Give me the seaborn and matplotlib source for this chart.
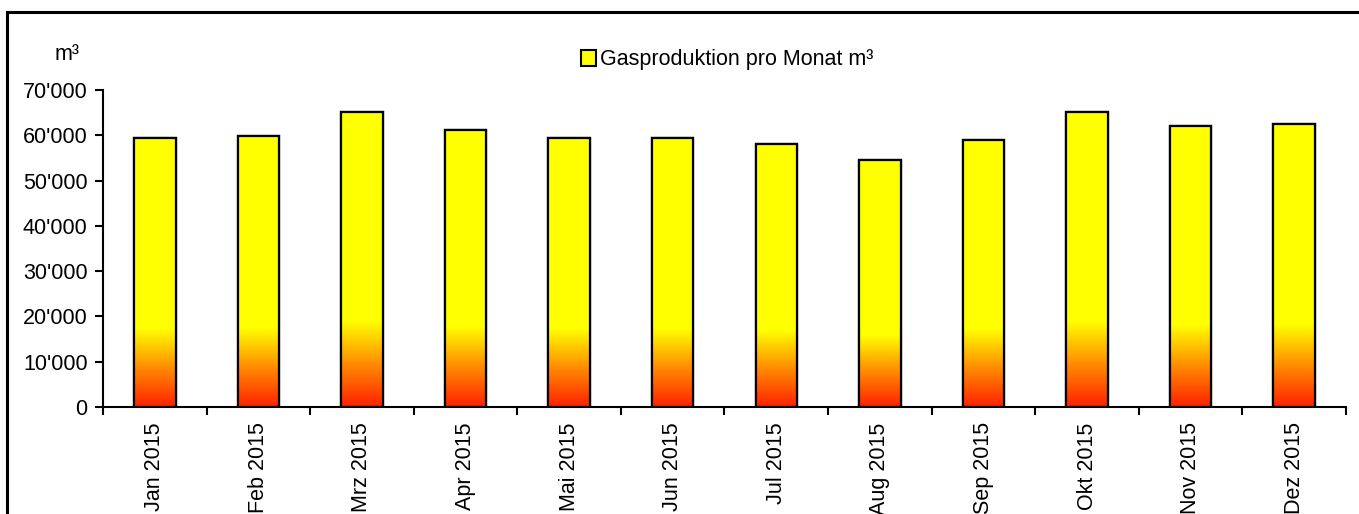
import numpy as np
import pandas as pd
import matplotlib
matplotlib.use("Agg")
import matplotlib.pyplot as plt
from matplotlib.colors import LinearSegmentedColormap
from matplotlib.patches import Rectangle
from matplotlib.ticker import FuncFormatter, FixedLocator
import seaborn as sns

months = ["Jan 2015", "Feb 2015", "Mrz 2015", "Apr 2015", "Mai 2015", "Jun 2015",
          "Jul 2015", "Aug 2015", "Sep 2015", "Okt 2015", "Nov 2015", "Dez 2015"]
gas_m3 = [59300, 59800, 65100, 61200, 59300, 59300,
          58100, 54600, 59000, 65100, 62100, 62500]
series_label = "Gasproduktion pro Monat m³"
unit_label = "m³"

sns.set_theme(style="white")
plt.rcParams["font.family"] = ["Liberation Sans", "DejaVu Sans"]
plt.rcParams["font.size"] = 15
plt.rcParams["text.color"] = "black"
plt.rcParams["xtick.color"] = "black"
plt.rcParams["ytick.color"] = "black"

df = pd.DataFrame({"Monat": months, "Gas": gas_m3})

fig = plt.figure(figsize=(13.59, 5.14), dpi=100)
ax = fig.add_axes([103 / 1359, 1 - 407 / 514, (1346 - 103) / 1359, 317 / 514])

sns.barplot(data=df, x="Monat", y="Gas", color="#FFFF00", width=0.4,
            edgecolor="black", linewidth=1.6, saturation=1, ax=ax)

# vertical red -> orange -> yellow fill inside each bar
fire = LinearSegmentedColormap.from_list(
    "fire", [(0.0, "#FF2200"), (0.14, "#FF8800"), (0.29, "#FFFF00"), (1.0, "#FFFF00")])
grad = np.linspace(0, 1, 256).reshape(-1, 1)
for bar in ax.patches:
    x0, w, h = bar.get_x(), bar.get_width(), bar.get_height()
    img = ax.imshow(grad, cmap=fire, origin="lower", aspect="auto",
                    extent=[x0, x0 + w, 0, h], zorder=bar.get_zorder() + 0.1)
    img.set_clip_path(bar)
    edge = Rectangle((x0, 0), w, h, fill=False, edgecolor="black",
                     linewidth=1.6, zorder=bar.get_zorder() + 0.2)
    ax.add_patch(edge)

n = len(months)
ax.set_xlim(-0.5, n - 0.5)
ax.set_ylim(0, 70000)
ax.yaxis.set_major_locator(FixedLocator(np.arange(0, 70001, 10000)))
ax.yaxis.set_major_formatter(FuncFormatter(lambda v, p: f"{int(v):,}".replace(",", "'")))

ax.set_xlabel("")
ax.set_ylabel("")
ax.set_xticks(range(n))
ax.set_xticklabels(months, rotation=90, va="top", ha="center")
ax.set_xticks(np.arange(-0.5, n, 1.0), minor=True)
ax.tick_params(axis="x", which="major", length=0, pad=11, labelsize=15.5,
               labelcolor="black")
ax.tick_params(axis="x", which="minor", length=6, width=1.5, direction="out",
               color="black", bottom=True)
ax.tick_params(axis="y", which="major", length=6, width=1.5, direction="out",
               color="black", left=True, pad=5, labelsize=15.5, labelcolor="black")

for side in ["top", "right"]:
    ax.spines[side].set_visible(False)
for side in ["left", "bottom"]:
    ax.spines[side].set_color("black")
    ax.spines[side].set_linewidth(1.5)

handle = Rectangle((0, 0), 1, 1, facecolor="#FFFF00", edgecolor="black", linewidth=1.5)
fig.legend([handle], [series_label], loc="center", bbox_to_anchor=(0.535, 1 - 60 / 514),
           frameon=False, fontsize=15.5, handlelength=0.7, handleheight=0.7,
           handletextpad=0.2, borderpad=0, labelcolor="black")

fig.text(55 / 1359, 1 - 55 / 514, unit_label, fontsize=15.5, ha="left", va="center",
         color="black")

# chart frame
fig.patches.append(Rectangle((7 / 1359, -0.1), 1.2, 1 - 12 / 514 + 0.1,
                             transform=fig.transFigure, fill=False,
                             edgecolor="black", linewidth=2.2))

fig.savefig("out.png", dpi=100, facecolor="white")
